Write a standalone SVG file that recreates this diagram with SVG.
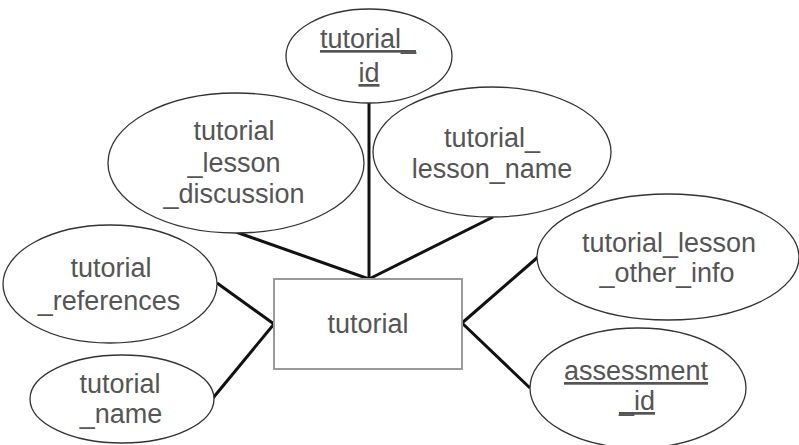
<svg xmlns="http://www.w3.org/2000/svg" width="799" height="445" viewBox="0 0 799 445">
<style>
.attr{fill:#fff;stroke:#333;stroke-width:1.3}
.ent{fill:#fff;stroke:#999;stroke-width:2}
.t{font-family:"Liberation Sans",Arial,sans-serif;font-size:27px;fill:#555;text-anchor:middle}
.k{text-decoration:underline}
.c{stroke:#111;stroke-width:3;fill:none}
</style>
<rect width="799" height="445" fill="#fff"/>
<g id="connectors">
<line class="c" x1="369" y1="103" x2="369" y2="279"/>
<line class="c" x1="236" y1="232" x2="369" y2="279"/>
<line class="c" x1="493" y1="217" x2="369" y2="279"/>
<line class="c" x1="217" y1="283" x2="274" y2="324"/>
<line class="c" x1="213" y1="398" x2="274" y2="324"/>
<line class="c" x1="538" y1="257" x2="462" y2="323"/>
<line class="c" x1="530" y1="388" x2="462" y2="323"/>
</g>
<g id="tutorial">
<rect class="ent" x="274" y="279" width="188" height="90"/>
<text class="t" x="368" y="333">tutorial</text>
</g>
<g id="tutorial_id">
<ellipse class="attr" cx="369" cy="56" rx="83" ry="47"/>
<text class="t k" x="368" y="48">tutorial_</text>
<text class="t k" x="369" y="82">id</text>
</g>
<g id="tutorial_lesson_discussion">
<ellipse class="attr" cx="236" cy="163" rx="128" ry="70"/>
<text class="t" x="234" y="140">tutorial</text>
<text class="t" x="234" y="172">_lesson</text>
<text class="t" x="234" y="203">_discussion</text>
</g>
<g id="tutorial_lesson_name">
<ellipse class="attr" cx="492" cy="152" rx="119" ry="65"/>
<text class="t" x="492" y="147">tutorial_</text>
<text class="t" x="492" y="178">lesson_name</text>
</g>
<g id="tutorial_references">
<ellipse class="attr" cx="110" cy="284" rx="107" ry="59"/>
<text class="t" x="111" y="277">tutorial</text>
<text class="t" x="109" y="310">_references</text>
</g>
<g id="tutorial_name">
<ellipse class="attr" cx="122" cy="399" rx="92" ry="44"/>
<text class="t" x="120" y="393">tutorial</text>
<text class="t" x="121" y="423">_name</text>
</g>
<g id="tutorial_lesson_other_info">
<ellipse class="attr" cx="668" cy="257" rx="131" ry="63"/>
<text class="t" x="669" y="252">tutorial_lesson</text>
<text class="t" x="667" y="282">_other_info</text>
</g>
<g id="assessment_id">
<ellipse class="attr" cx="638" cy="388" rx="108" ry="60"/>
<text class="t k" x="636" y="380">assessment</text>
<text class="t k" x="637" y="410">_id</text>
</g>
</svg>
